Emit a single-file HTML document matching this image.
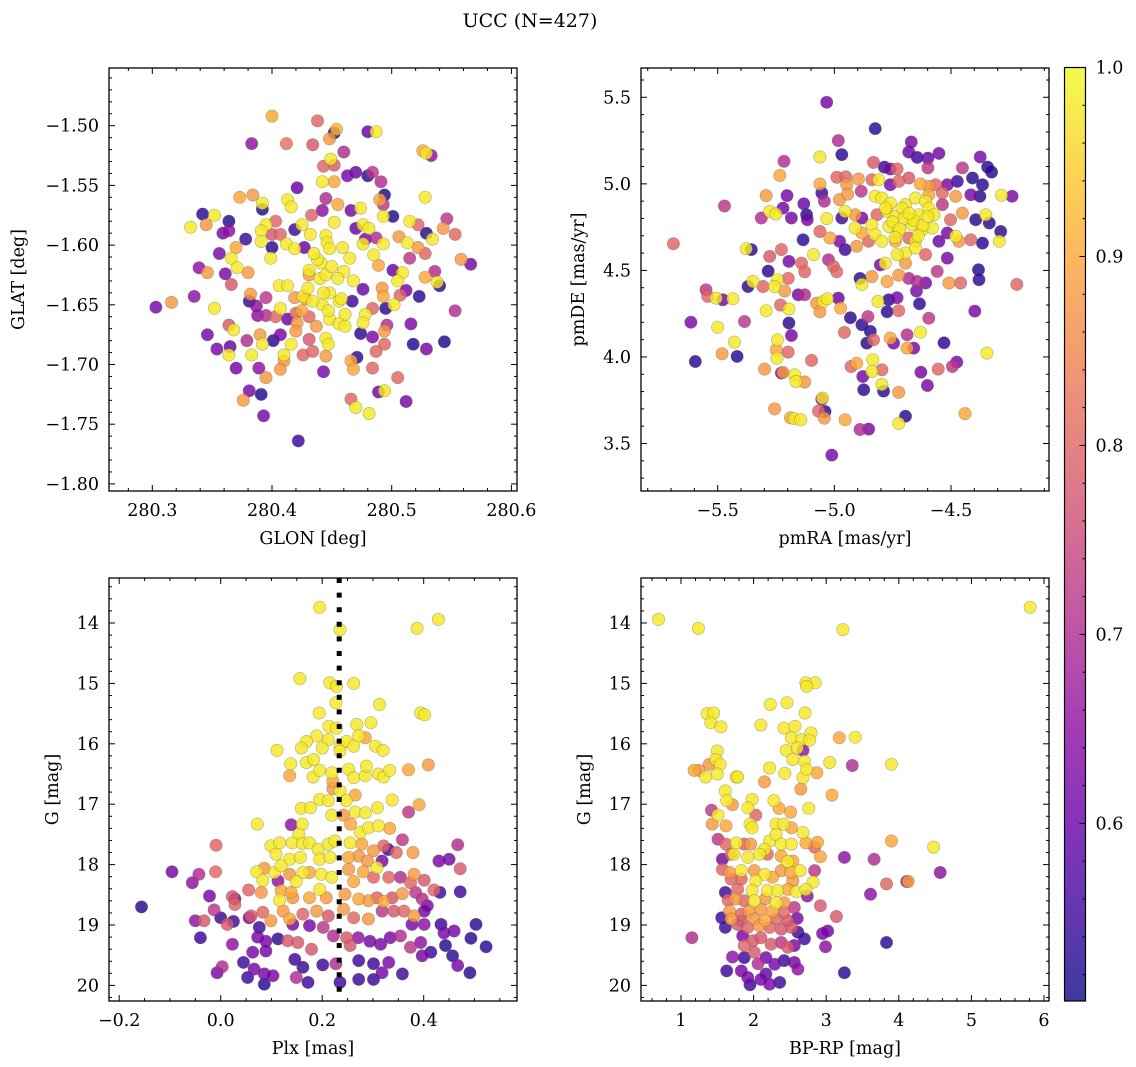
<!DOCTYPE html>
<html><head><meta charset="utf-8"><title>UCC (N=427)</title>
<style>
html,body{margin:0;padding:0;background:#fff;}
svg{display:block;font-family:"DejaVu Serif","Liberation Serif",serif;}
</style></head>
<body>
<svg id="fig" width="1136" height="1067" viewBox="0 0 1136 1067" xmlns="http://www.w3.org/2000/svg">
<rect width="1136" height="1067" fill="#fff"/>
<text x="530" y="27" font-size="19" text-anchor="middle">UCC (N=427)</text>
<g id="layer"></g>
</svg>
<script>
// ---- Panel 1: GLON vs GLAT ----
const glonTL=[280.400,280.438,280.454,280.452,280.480,280.487,280.383,280.412,280.434,280.448,280.460,280.526,280.529,280.533,280.449,280.443,280.452,280.463,280.470,280.484,280.480,280.491,280.442,280.452,280.421,280.494,280.528,280.373,280.384,280.392,280.392,280.413,280.416,280.445,280.455,280.490,280.493,280.474,280.466,280.493,280.501,280.342,280.352,280.332,280.345,280.364,280.359,280.364,280.378,280.403,280.395,280.391,280.400,280.407,280.419,280.425,280.433,280.442,280.432,280.445,280.452,280.476,280.481,280.470,280.487,280.506,280.513,280.515,280.522,280.529,280.534,280.546,280.543,280.553,280.522,280.528,280.391,280.370,280.356,280.366,280.371,280.380,280.339,280.346,280.361,280.366,280.399,280.400,280.412,280.419,280.427,280.431,280.441,280.446,280.448,280.459,280.465,280.476,280.478,280.485,280.493,280.489,280.501,280.509,280.505,280.515,280.528,280.536,280.538,280.540,280.558,280.566,280.303,280.316,280.335,280.352,280.382,280.381,280.387,280.395,280.406,280.413,280.407,280.419,280.426,280.431,280.440,280.445,280.448,280.442,280.434,280.456,280.460,280.468,280.476,280.467,280.461,280.448,280.456,280.461,280.478,280.476,280.484,280.492,280.493,280.502,280.507,280.512,280.523,280.495,280.553,280.420,280.413,280.403,280.395,280.388,280.421,280.431,280.437,280.364,280.368,280.346,280.354,280.365,280.364,280.379,280.390,280.392,280.383,280.401,280.407,280.416,280.410,280.410,280.426,280.420,280.431,280.445,280.447,280.445,280.434,280.474,280.484,280.494,280.496,280.494,280.487,280.516,280.518,280.529,280.544,280.370,280.389,280.407,280.443,280.466,280.468,280.471,280.484,280.505,280.395,280.381,280.391,280.376,280.466,280.489,280.494,280.512,280.470,280.481,280.393,280.422,280.430,280.438,280.450,280.425,280.443,280.455,280.435,280.447,280.458,280.428];
const glatTL=[-1.492,-1.496,-1.503,-1.506,-1.505,-1.505,-1.515,-1.515,-1.516,-1.511,-1.522,-1.521,-1.523,-1.525,-1.528,-1.534,-1.533,-1.542,-1.539,-1.539,-1.542,-1.547,-1.547,-1.547,-1.552,-1.558,-1.560,-1.560,-1.558,-1.565,-1.570,-1.562,-1.568,-1.561,-1.566,-1.562,-1.566,-1.569,-1.571,-1.576,-1.576,-1.574,-1.575,-1.585,-1.583,-1.580,-1.590,-1.588,-1.595,-1.580,-1.583,-1.588,-1.591,-1.591,-1.587,-1.583,-1.575,-1.571,-1.591,-1.592,-1.581,-1.583,-1.586,-1.586,-1.594,-1.593,-1.598,-1.580,-1.583,-1.590,-1.595,-1.578,-1.586,-1.591,-1.602,-1.607,-1.597,-1.602,-1.607,-1.611,-1.619,-1.623,-1.619,-1.623,-1.624,-1.633,-1.611,-1.602,-1.599,-1.603,-1.602,-1.621,-1.615,-1.598,-1.603,-1.602,-1.611,-1.599,-1.595,-1.608,-1.599,-1.617,-1.621,-1.623,-1.630,-1.611,-1.627,-1.622,-1.631,-1.634,-1.612,-1.616,-1.652,-1.648,-1.643,-1.653,-1.641,-1.647,-1.651,-1.644,-1.634,-1.634,-1.653,-1.644,-1.643,-1.625,-1.628,-1.625,-1.640,-1.650,-1.647,-1.647,-1.622,-1.630,-1.637,-1.647,-1.658,-1.662,-1.666,-1.668,-1.658,-1.665,-1.653,-1.636,-1.643,-1.650,-1.642,-1.638,-1.643,-1.653,-1.655,-1.657,-1.662,-1.660,-1.659,-1.659,-1.665,-1.660,-1.668,-1.667,-1.671,-1.675,-1.687,-1.685,-1.692,-1.680,-1.675,-1.683,-1.692,-1.680,-1.675,-1.683,-1.692,-1.697,-1.692,-1.672,-1.679,-1.678,-1.683,-1.693,-1.689,-1.674,-1.677,-1.672,-1.667,-1.683,-1.689,-1.666,-1.683,-1.687,-1.681,-1.703,-1.703,-1.704,-1.706,-1.697,-1.704,-1.694,-1.703,-1.711,-1.711,-1.722,-1.725,-1.730,-1.729,-1.723,-1.722,-1.731,-1.736,-1.741,-1.743,-1.764,-1.636,-1.612,-1.618,-1.655,-1.640,-1.628,-1.607,-1.655,-1.645,-1.645];
const probTL=[0.9,0.8,0.92,0.52,0.6,0.98,0.65,0.82,0.78,0.88,0.7,0.9,0.98,0.65,0.98,0.8,0.78,0.62,0.6,0.72,0.53,0.7,0.98,0.9,0.6,0.52,0.98,0.9,0.88,0.98,0.52,0.98,0.98,0.7,0.9,0.9,0.72,0.98,0.62,0.98,0.52,0.53,0.98,0.98,0.88,0.52,0.62,0.65,0.55,0.8,0.98,0.98,0.78,0.8,0.55,0.98,0.8,0.65,0.98,0.98,0.98,0.98,0.98,0.6,0.7,0.88,0.98,0.98,0.8,0.52,0.98,0.72,0.88,0.8,0.88,0.8,0.98,0.9,0.62,0.98,0.98,0.88,0.65,0.88,0.62,0.78,0.98,0.53,0.98,0.98,0.6,0.98,0.98,0.98,0.98,0.98,0.98,0.98,0.62,0.98,0.98,0.9,0.6,0.98,0.98,0.72,0.9,0.7,0.98,0.53,0.88,0.62,0.62,0.88,0.65,0.98,0.88,0.53,0.65,0.72,0.98,0.98,0.98,0.88,0.98,0.88,0.98,0.98,0.98,0.98,0.98,0.98,0.98,0.98,0.6,0.55,0.98,0.98,0.98,0.98,0.98,0.98,0.8,0.88,0.9,0.98,0.8,0.62,0.53,0.53,0.7,0.8,0.6,0.8,0.7,0.65,0.88,0.8,0.88,0.78,0.98,0.62,0.62,0.6,0.98,0.7,0.88,0.98,0.98,0.53,0.62,0.98,0.98,0.88,0.8,0.88,0.78,0.98,0.98,0.88,0.8,0.53,0.62,0.88,0.7,0.8,0.8,0.62,0.52,0.62,0.52,0.62,0.65,0.88,0.62,0.9,0.9,0.53,0.8,0.8,0.88,0.62,0.52,0.88,0.8,0.62,0.98,0.62,0.98,0.98,0.62,0.55,0.98,0.98,0.98,0.9,0.98,0.98,0.98,0.98,0.98,0.88];

// ---- Panel 2: pmRA vs pmDE ----
const pmraTR=[-5.033,-4.825,-4.983,-4.968,-5.062,-4.670,-4.681,-4.645,-4.599,-4.552,-4.375,-5.216,-5.234,-4.832,-4.786,-4.760,-4.731,-4.599,-4.451,-4.343,-4.326,-4.408,-4.365,-4.473,-4.516,-4.989,-4.951,-4.897,-4.839,-4.810,-4.760,-4.724,-4.681,-4.631,-4.595,-4.566,-5.062,-4.947,-5.292,-5.203,-5.131,-5.054,-5.043,-4.978,-4.943,-4.885,-4.825,-4.796,-4.760,-4.695,-4.652,-4.609,-4.595,-4.537,-4.480,-4.415,-4.376,-4.283,-4.238,-5.471,-5.277,-5.251,-5.313,-5.220,-5.184,-5.119,-5.116,-5.033,-4.968,-4.954,-4.911,-4.882,-4.839,-4.817,-4.774,-4.738,-4.710,-4.681,-4.638,-4.595,-4.573,-4.537,-4.451,-4.394,-4.351,-4.336,-4.502,-4.911,-4.882,-4.825,-4.767,-4.724,-4.667,-4.624,-4.580,-4.652,-4.681,-4.796,-4.738,-4.853,-5.062,-5.019,-5.134,-4.978,-4.954,-4.904,-4.695,-4.652,-4.609,-4.552,-4.516,-4.480,-4.466,-4.415,-4.365,-4.287,-4.293,-4.516,-4.731,-4.782,-4.695,-4.724,-4.803,-5.690,-5.378,-5.356,-5.277,-5.227,-5.195,-5.141,-5.127,-5.089,-5.025,-5.004,-4.990,-5.284,-5.198,-5.244,-5.349,-5.370,-5.306,-5.550,-5.543,-5.507,-5.478,-5.435,-5.256,-5.213,-5.155,-5.127,-5.076,-5.048,-5.030,-4.983,-4.973,-4.890,-4.882,-4.839,-4.774,-4.681,-4.645,-4.609,-4.559,-4.509,-4.459,-4.382,-4.380,-4.218,-4.648,-4.813,-4.767,-4.731,-4.774,-4.724,-4.635,-4.398,-5.615,-5.500,-5.385,-5.292,-5.231,-5.195,-5.195,-5.184,-5.062,-4.931,-4.856,-4.882,-4.846,-4.832,-4.861,-4.957,-4.760,-4.746,-4.688,-4.688,-4.660,-4.595,-4.631,-4.530,-5.596,-5.481,-5.417,-5.428,-5.244,-5.249,-5.198,-5.246,-5.299,-5.227,-5.220,-5.170,-5.165,-5.127,-5.098,-4.904,-4.928,-4.835,-4.839,-4.796,-4.878,-4.874,-4.796,-4.789,-4.724,-4.629,-4.601,-4.555,-4.494,-4.475,-4.346,-5.256,-5.054,-5.051,-5.068,-5.043,-5.040,-5.188,-5.172,-5.144,-4.954,-4.890,-4.853,-4.695,-4.724,-4.440,-5.011,-4.750,-4.700,-4.660,-4.620,-4.780,-4.720,-4.680,-4.640,-4.740,-4.600];
const pmdeTR=[5.471,5.319,5.250,5.169,5.155,5.242,5.184,5.153,5.149,5.176,5.155,5.130,5.049,5.124,5.097,5.086,5.086,5.092,5.092,5.097,5.068,5.034,4.995,5.014,4.995,5.038,5.041,5.028,5.024,5.024,4.995,5.014,5.034,4.999,4.986,4.995,4.999,4.995,4.932,4.932,4.885,4.947,4.899,4.909,4.941,4.957,4.928,4.918,4.889,4.880,4.918,4.899,4.937,4.947,4.928,4.937,4.928,4.934,4.928,4.872,4.841,4.826,4.803,4.860,4.803,4.822,4.793,4.799,4.803,4.841,4.822,4.803,4.764,4.822,4.841,4.812,4.860,4.803,4.822,4.860,4.822,4.880,4.831,4.793,4.822,4.774,4.793,4.745,4.716,4.706,4.754,4.725,4.764,4.735,4.745,4.668,4.687,4.668,4.668,4.668,4.725,4.687,4.677,4.668,4.620,4.639,4.601,4.629,4.591,4.668,4.716,4.697,4.668,4.677,4.658,4.725,4.668,4.571,4.591,4.542,4.542,4.473,4.532,4.654,4.625,4.620,4.581,4.620,4.552,4.542,4.492,4.591,4.562,4.523,4.492,4.496,4.454,4.446,4.436,4.407,4.407,4.388,4.350,4.340,4.330,4.336,4.407,4.381,4.359,4.359,4.311,4.321,4.336,4.340,4.282,4.454,4.419,4.465,4.436,4.454,4.436,4.427,4.494,4.427,4.427,4.504,4.446,4.419,4.381,4.321,4.330,4.342,4.261,4.267,4.307,4.265,4.201,4.172,4.205,4.267,4.300,4.277,4.196,4.124,4.261,4.227,4.233,4.186,4.148,4.099,4.080,4.142,4.109,4.080,4.128,4.051,4.051,4.224,4.143,4.082,3.974,4.018,4.003,4.086,4.099,4.041,4.028,3.993,3.930,3.907,3.911,3.897,3.858,3.855,3.980,3.964,3.945,3.984,3.916,3.926,3.887,3.810,3.841,3.803,3.795,3.912,3.835,3.930,3.945,3.970,4.022,3.700,3.756,3.762,3.687,3.646,3.685,3.649,3.643,3.637,3.637,3.581,3.583,3.658,3.616,3.673,3.433,4.780,4.800,4.790,4.760,4.860,4.740,4.830,4.700,4.690,4.810];
const probTR=[0.62,0.53,0.7,0.53,0.98,0.62,0.6,0.55,0.6,0.62,0.62,0.7,0.9,0.78,0.55,0.62,0.8,0.72,0.72,0.53,0.52,0.53,0.53,0.55,0.62,0.8,0.8,0.88,0.8,0.98,0.62,0.8,0.78,0.9,0.88,0.8,0.9,0.88,0.88,0.62,0.6,0.55,0.7,0.88,0.88,0.72,0.98,0.98,0.98,0.98,0.98,0.98,0.9,0.8,0.88,0.62,0.53,0.98,0.62,0.72,0.98,0.98,0.7,0.62,0.62,0.53,0.62,0.98,0.55,0.98,0.88,0.62,0.98,0.8,0.98,0.98,0.98,0.98,0.98,0.98,0.98,0.72,0.88,0.53,0.98,0.53,0.8,0.98,0.9,0.98,0.98,0.98,0.98,0.98,0.98,0.98,0.8,0.98,0.9,0.8,0.8,0.9,0.53,0.62,0.55,0.88,0.98,0.98,0.8,0.6,0.62,0.98,0.88,0.8,0.53,0.53,0.98,0.62,0.98,0.98,0.88,0.88,0.62,0.8,0.98,0.53,0.78,0.8,0.62,0.8,0.8,0.98,0.7,0.8,0.8,0.53,0.8,0.98,0.98,0.53,0.8,0.72,0.8,0.98,0.62,0.98,0.98,0.88,0.62,0.7,0.88,0.98,0.98,0.6,0.9,0.53,0.98,0.88,0.9,0.7,0.7,0.62,0.72,0.88,0.8,0.53,0.53,0.8,0.62,0.98,0.53,0.62,0.53,0.8,0.53,0.62,0.62,0.98,0.72,0.98,0.8,0.98,0.53,0.62,0.88,0.53,0.72,0.53,0.53,0.8,0.53,0.8,0.9,0.62,0.7,0.9,0.62,0.72,0.98,0.53,0.53,0.88,0.53,0.98,0.98,0.9,0.8,0.98,0.88,0.62,0.88,0.98,0.98,0.88,0.8,0.9,0.8,0.98,0.98,0.8,0.62,0.53,0.98,0.53,0.88,0.62,0.62,0.8,0.72,0.62,0.98,0.88,0.62,0.98,0.8,0.88,0.53,0.9,0.98,0.98,0.9,0.7,0.62,0.53,0.98,0.9,0.62,0.98,0.98,0.98,0.98,0.98,0.98,0.98,0.98,0.98,0.98];

// ---- Panel 3: Plx vs G ----
const plxBL=[0.195,0.235,0.387,0.429,0.156,0.215,0.228,0.262,0.227,0.313,0.194,0.394,0.402,0.213,0.228,0.268,0.296,0.285,0.272,0.189,0.169,0.212,0.200,0.235,0.248,0.262,0.159,0.111,0.305,0.320,0.235,0.138,0.169,0.183,0.136,0.182,0.195,0.219,0.252,0.262,0.285,0.287,0.311,0.321,0.333,0.370,0.409,0.221,0.221,0.235,0.265,0.195,0.212,0.247,0.159,0.177,0.219,0.242,0.265,0.285,0.309,0.338,0.370,0.391,0.072,0.139,0.161,0.256,0.275,0.291,0.311,0.333,0.154,0.099,0.116,0.141,0.161,0.175,0.192,0.212,0.225,0.255,0.278,0.301,0.321,0.358,0.346,0.379,0.467,-0.009,0.109,0.136,0.157,0.195,0.215,0.252,0.272,0.289,0.318,0.330,0.430,0.450,0.472,-0.096,-0.043,-0.010,-0.056,0.071,0.086,0.106,0.119,0.083,0.113,0.136,0.162,0.175,0.149,0.198,0.219,0.252,0.262,0.281,0.301,0.308,0.331,0.354,0.381,0.374,0.401,0.432,0.420,0.472,-0.022,0.023,0.028,0.055,0.080,0.119,0.139,0.116,0.142,0.175,0.195,0.208,0.245,0.272,0.291,0.308,0.321,0.338,0.358,0.384,0.397,-0.156,0.028,-0.013,-0.050,-0.033,-0.040,0.000,0.013,0.025,0.056,0.060,0.083,0.099,0.123,0.136,0.162,0.189,0.212,0.242,0.262,0.291,0.318,0.341,0.361,0.381,0.401,0.407,0.377,0.401,0.434,0.440,0.460,0.503,0.493,0.523,0.076,0.073,0.089,0.113,0.132,0.152,0.142,0.175,0.202,0.222,0.248,0.255,0.271,0.294,0.315,0.334,0.354,0.374,0.394,0.414,0.443,0.457,0.467,0.491,0.023,0.063,0.089,0.179,0.146,0.162,-0.007,0.003,0.045,0.053,0.066,0.086,0.086,0.103,0.149,0.172,0.201,0.227,0.235,0.272,0.272,0.301,0.301,0.318,0.331,0.358,0.397];
const gmagBL=[13.74,14.11,14.09,13.94,14.92,14.99,15.05,15.00,15.32,15.35,15.49,15.49,15.52,15.71,15.74,15.68,15.65,15.90,15.87,15.87,15.96,15.93,16.07,16.04,15.96,16.04,16.07,16.11,16.04,16.11,16.12,16.33,16.31,16.26,16.53,16.55,16.44,16.48,16.42,16.56,16.53,16.37,16.50,16.55,16.44,16.43,16.35,16.62,16.74,16.78,16.85,16.92,16.94,16.94,17.07,17.06,17.18,17.18,17.13,17.14,17.06,16.93,17.13,17.01,17.33,17.34,17.33,17.33,17.47,17.39,17.36,17.40,17.50,17.69,17.64,17.64,17.65,17.64,17.75,17.66,17.61,17.64,17.66,17.77,17.69,17.59,17.80,17.80,17.67,17.68,17.83,17.91,17.88,17.91,17.88,17.88,17.86,17.94,17.94,17.75,17.94,17.91,18.07,18.12,18.16,18.12,18.30,18.12,18.06,18.13,18.02,18.26,18.27,18.16,18.13,18.13,18.28,18.16,18.21,18.08,18.28,18.12,18.21,18.05,18.21,18.21,18.16,18.30,18.26,18.46,18.42,18.45,18.52,18.53,18.57,18.42,18.46,18.43,18.46,18.59,18.55,18.55,18.41,18.55,18.49,18.57,18.60,18.55,18.61,18.55,18.48,18.46,18.57,18.70,18.66,18.75,18.93,18.93,19.21,18.88,18.99,18.94,18.88,18.85,18.79,18.93,18.77,18.90,18.82,18.77,18.85,18.74,18.88,18.90,18.77,18.77,18.77,18.85,18.77,18.68,18.99,18.99,18.99,19.13,19.10,18.99,19.22,19.36,19.04,19.20,19.27,19.23,19.26,19.29,18.99,19.01,19.04,19.18,19.21,19.34,19.21,19.27,19.32,19.21,19.18,19.37,19.29,19.45,19.34,19.51,19.67,19.79,19.32,19.45,19.43,19.40,19.57,19.70,19.79,19.69,19.62,19.87,19.73,19.81,19.98,19.84,19.87,19.95,19.66,19.64,19.95,19.59,19.90,19.64,19.90,19.79,19.62,19.81,19.51];
const probBL=[0.98,0.98,0.98,0.98,0.98,0.98,0.98,0.98,0.98,0.98,0.98,0.98,0.98,0.98,0.98,0.98,0.98,0.9,0.98,0.98,0.98,0.98,0.98,0.98,0.98,0.98,0.98,0.98,0.98,0.98,0.98,0.98,0.98,0.98,0.9,0.98,0.98,0.98,0.98,0.98,0.98,0.98,0.98,0.98,0.98,0.9,0.88,0.9,0.88,0.98,0.9,0.98,0.98,0.98,0.98,0.98,0.98,0.88,0.98,0.98,0.98,0.98,0.72,0.9,0.98,0.65,0.98,0.9,0.98,0.98,0.98,0.9,0.98,0.98,0.98,0.98,0.98,0.98,0.98,0.98,0.98,0.98,0.9,0.88,0.8,0.72,0.8,0.88,0.7,0.8,0.98,0.98,0.98,0.98,0.98,0.9,0.88,0.88,0.62,0.55,0.62,0.62,0.78,0.62,0.7,0.8,0.65,0.98,0.88,0.98,0.98,0.98,0.65,0.88,0.98,0.9,0.98,0.98,0.98,0.88,0.9,0.9,0.8,0.98,0.8,0.7,0.88,0.8,0.78,0.55,0.8,0.55,0.62,0.78,0.62,0.8,0.88,0.9,0.9,0.98,0.88,0.9,0.98,0.88,0.88,0.9,0.88,0.8,0.9,0.78,0.88,0.72,0.7,0.53,0.8,0.72,0.65,0.78,0.55,0.55,0.78,0.55,0.62,0.78,0.8,0.88,0.88,0.9,0.8,0.88,0.78,0.88,0.8,0.88,0.72,0.78,0.8,0.88,0.62,0.62,0.62,0.65,0.55,0.62,0.62,0.53,0.53,0.53,0.55,0.62,0.62,0.53,0.78,0.78,0.62,0.62,0.72,0.7,0.78,0.78,0.65,0.62,0.62,0.62,0.7,0.72,0.65,0.55,0.53,0.53,0.62,0.53,0.65,0.62,0.62,0.78,0.55,0.55,0.62,0.7,0.55,0.55,0.62,0.62,0.53,0.62,0.7,0.55,0.55,0.7,0.55,0.55,0.55,0.55,0.55,0.62,0.62,0.55,0.62];

// ---- Panel 4: BP-RP vs G ----
const bprpBR=[0.69,1.24,3.23,5.81,2.72,2.85,2.73,2.23,2.46,2.71,1.36,1.45,1.41,1.55,2.10,2.42,2.57,2.52,2.66,2.79,2.77,3.18,3.40,2.68,2.45,2.60,2.54,2.70,3.05,3.36,3.90,1.50,1.48,1.39,1.54,1.18,1.25,1.34,1.50,1.76,1.78,2.22,2.43,2.68,2.73,2.87,2.15,2.65,3.08,1.61,1.63,1.71,1.98,1.92,2.28,2.35,2.51,2.76,1.42,1.51,2.03,1.43,1.62,1.95,1.98,2.31,2.41,2.52,2.68,1.51,1.62,1.76,1.87,1.96,2.22,2.31,2.38,2.52,2.72,2.88,2.84,2.15,2.92,3.25,3.66,3.90,4.48,1.57,1.69,1.73,1.92,2.08,2.19,2.38,2.47,2.54,1.57,1.67,1.83,2.01,2.15,2.26,2.38,2.51,2.64,2.84,2.82,2.54,2.03,1.83,1.69,3.83,4.11,4.13,4.57,1.61,1.78,1.98,2.19,2.33,2.47,2.59,2.72,2.74,3.61,1.65,1.75,1.87,2.01,2.16,2.31,2.42,2.56,2.92,3.14,1.67,1.83,1.94,2.10,2.26,2.42,1.56,1.69,1.83,2.01,2.16,2.31,2.47,2.60,1.61,1.78,1.92,2.08,2.22,2.38,2.52,2.61,2.70,2.95,3.02,2.99,1.15,3.83,1.85,1.87,1.99,2.10,2.24,2.38,2.47,2.56,1.71,1.87,2.01,2.06,2.17,2.29,2.42,2.56,2.61,1.63,1.83,1.92,1.95,2.10,2.17,2.22,2.36,3.25];
const gmagBR=[13.94,14.09,14.11,13.74,14.99,14.99,15.05,15.35,15.32,15.49,15.50,15.49,15.65,15.72,15.69,15.74,15.71,15.90,15.93,15.82,15.94,15.90,15.89,16.11,16.11,16.07,16.26,16.29,16.31,16.36,16.34,16.12,16.26,16.34,16.34,16.44,16.44,16.55,16.50,16.55,16.55,16.40,16.49,16.56,16.42,16.48,16.63,16.75,16.85,16.78,16.94,17.01,16.92,17.06,16.94,17.07,17.13,17.07,17.10,17.18,17.18,17.33,17.36,17.33,17.39,17.33,17.33,17.39,17.47,17.58,17.66,17.64,17.66,17.66,17.61,17.50,17.66,17.66,17.64,17.63,17.71,17.75,17.87,17.88,17.91,17.61,17.71,17.91,17.83,17.83,17.88,17.83,17.83,17.86,17.95,17.94,18.08,18.13,18.10,18.10,18.16,18.21,18.10,18.13,18.10,18.10,18.29,18.27,18.27,18.24,18.24,18.32,18.28,18.28,18.13,18.46,18.41,18.43,18.43,18.43,18.41,18.45,18.41,18.52,18.49,18.59,18.57,18.60,18.60,18.57,18.63,18.63,18.71,18.68,18.86,18.77,18.82,18.77,18.74,18.77,18.79,18.88,18.90,18.93,18.90,18.92,18.90,18.93,18.89,19.04,18.99,19.04,19.01,19.04,19.07,19.04,19.12,19.23,19.14,19.10,19.36,19.21,19.29,19.18,19.34,19.26,19.21,19.32,19.29,19.37,19.34,19.53,19.54,19.45,19.64,19.54,19.65,19.59,19.62,19.73,19.76,19.76,19.87,19.99,19.90,19.81,19.98,19.95,19.79];
const probBR=[0.98,0.98,0.98,0.98,0.98,0.98,0.98,0.98,0.98,0.98,0.98,0.98,0.98,0.98,0.98,0.98,0.98,0.98,0.98,0.98,0.98,0.9,0.98,0.65,0.98,0.98,0.98,0.98,0.98,0.7,0.98,0.98,0.98,0.88,0.98,0.9,0.88,0.98,0.98,0.98,0.98,0.98,0.98,0.98,0.98,0.9,0.88,0.88,0.9,0.98,0.98,0.88,0.98,0.98,0.98,0.9,0.9,0.98,0.72,0.98,0.8,0.88,0.9,0.98,0.98,0.98,0.98,0.9,0.98,0.72,0.8,0.98,0.8,0.88,0.98,0.98,0.98,0.98,0.9,0.9,0.8,0.98,0.9,0.65,0.7,0.9,0.98,0.62,0.8,0.98,0.98,0.98,0.8,0.9,0.98,0.9,0.8,0.88,0.98,0.88,0.98,0.9,0.88,0.9,0.98,0.72,0.98,0.88,0.98,0.8,0.8,0.8,0.62,0.9,0.65,0.55,0.8,0.98,0.98,0.98,0.9,0.98,0.98,0.65,0.65,0.8,0.88,0.8,0.98,0.88,0.98,0.88,0.72,0.78,0.78,0.88,0.8,0.88,0.88,0.9,0.8,0.55,0.88,0.78,0.88,0.9,0.8,0.78,0.62,0.55,0.78,0.8,0.88,0.8,0.78,0.78,0.55,0.55,0.62,0.62,0.65,0.7,0.53,0.62,0.8,0.78,0.78,0.78,0.72,0.78,0.62,0.65,0.55,0.78,0.7,0.62,0.62,0.55,0.62,0.65,0.55,0.62,0.62,0.55,0.62,0.6,0.62,0.55,0.53];

// colour scale range and colorbar ticks
const cbarTicks=[0.6,0.7,0.8,0.9,1.0];
const plxLine=[0.2335];

const NS="http://www.w3.org/2000/svg";
const layer=document.getElementById('layer');
const VMIN=0.506, VMAX=1.0;
const PL=[[13,8,135],[65,4,157],[106,0,168],[143,13,164],[177,42,144],[204,71,120],[225,100,98],[242,132,75],[252,166,54],[252,206,37],[240,249,33]];
function plasma(t){t=Math.max(0,Math.min(1,t));const f=t*10,i=Math.min(9,Math.floor(f)),r=f-i;const a=PL[i],b=PL[i+1];return 'rgb('+[0,1,2].map(k=>Math.round(a[k]+(b[k]-a[k])*r)).join(',')+')';}
function mk(tag,attrs,parent){const e=document.createElementNS(NS,tag);for(const k in attrs)e.setAttribute(k,attrs[k]);(parent||layer).appendChild(e);return e;}
function fmt(v,d){const s=Math.abs(v).toFixed(d);return (v<-1e-9?'\u2212':'')+s;}
const FS=17.5;

function panel(id,L,T,W,H,xm,ym,xs,ys,ps,xt,yt,xlab,ylab,ylabX){
  const g=mk('g',{});
  
  
  const sx=v=>xm.p0+(v-xm.v0)*xm.k, sy=v=>ym.p0+(v-ym.v0)*ym.k;
  const clip=mk('clipPath',{id:'c'+id},g);mk('rect',{x:L,y:T,width:W,height:H},clip);
  const pts=mk('g',{'clip-path':'url(#c'+id+')'},g);
  
  
  const idx=ps.map((p,i)=>i).sort((a,b)=>ps[a]-ps[b]);
  idx.forEach(i=>{
    const c=mk('circle',{cx:sx(xs[i]).toFixed(1),cy:sy(ys[i]).toFixed(1),r:6.2,fill:plasma((ps[i]-VMIN)/(VMAX-VMIN)),'fill-opacity':0.82,stroke:'rgba(90,90,60,0.45)','stroke-width':0.6},pts);
    
    
  });
  if(id==='plx'){
    const x=sx(plxLine[0]);
    const ln=mk('line',{x1:x,x2:x,y1:T,y2:T+H,stroke:'#000','stroke-width':5,'stroke-dasharray':'5,9.6'},g);
    
    
  }
  const tk=mk('g',{stroke:'#000','stroke-width':1},g);
  for(let i=0;;i++){const v=xt.start+i*xt.minor;if(v>xt.end+1e-9)break;const x=sx(v);if(x<L-0.5||x>L+W+0.5)continue;
    const mj=Math.abs(Math.round((v-xt.major0)/xt.major)*xt.major-(v-xt.major0))<1e-6;const len=mj?6:3;
    mk('line',{x1:x,x2:x,y1:T+H,y2:T+H-len},tk);mk('line',{x1:x,x2:x,y1:T,y2:T+len},tk);
    if(mj){const t=mk('text',{x:x,y:T+H+25,'font-size':FS,'text-anchor':'middle',stroke:'none',fill:'#000'},g);t.textContent=fmt(v,xt.dec);
      
      }}
  for(let i=0;;i++){const v=yt.start+i*yt.minor;if(v>yt.end+1e-9)break;const y=sy(v);if(y<T-0.5||y>T+H+0.5)continue;
    const mj=Math.abs(Math.round((v-yt.major0)/yt.major)*yt.major-(v-yt.major0))<1e-6;const len=mj?6:3;
    mk('line',{x1:L,x2:L+len,y1:y,y2:y},tk);mk('line',{x1:L+W,x2:L+W-len,y1:y,y2:y},tk);
    if(mj){const t=mk('text',{x:L-10,y:y+6,'font-size':FS,'text-anchor':'end',stroke:'none',fill:'#000'},g);t.textContent=fmt(v,yt.dec);
      
      }}
  const fr=mk('rect',{x:L,y:T,width:W,height:H,fill:'none',stroke:'#000','stroke-width':1.3},g);
  
  
  const xl=mk('text',{x:L+W/2,y:T+H+53,'font-size':FS,'text-anchor':'middle'},g);xl.textContent=xlab;
  
  
  const yc=T+H/2;
  const yl=mk('text',{x:ylabX,y:yc,'font-size':FS,'text-anchor':'middle',transform:'rotate(-90 '+ylabX+' '+yc+')'},g);yl.textContent=ylab;
  
  
}

panel('glon',109,68,408,423,{v0:280.3,p0:152.3,k:1197},{v0:-1.5,p0:125.7,k:-1194},glonTL,glatTL,probTL,
  {start:280.26,end:280.62,minor:0.02,major:0.1,major0:280.3,dec:1},{start:-1.81,end:-1.45,minor:0.01,major:0.05,major0:-1.5,dec:2},'GLON [deg]','GLAT [deg]',24);
panel('pm',641,68,408,423,{v0:-5.5,p0:717.7,k:233.3},{v0:5.5,p0:97.3,k:-173.1},pmraTR,pmdeTR,probTR,
  {start:-5.9,end:-4.0,minor:0.1,major:0.5,major0:-5.5,dec:1},{start:3.2,end:5.7,minor:0.1,major:0.5,major0:3.5,dec:1},'pmRA [mas/yr]','pmDE [mas/yr]',584);
panel('plx',109,578,408,423,{v0:0,p0:220.7,k:507.5},{v0:14,p0:623,k:60.4},plxBL,gmagBL,probBL,
  {start:-0.25,end:0.6,minor:0.05,major:0.2,major0:0,dec:1},{start:13.2,end:20.4,minor:0.2,major:1,major0:14,dec:0},'Plx [mas]','G [mag]',58);
panel('cmd',641,578,408,423,{v0:1,p0:681,k:72.6},{v0:14,p0:623,k:60.4},bprpBR,gmagBR,probBR,
  {start:0.4,end:6.2,minor:0.2,major:1,major0:1,dec:0},{start:13.2,end:20.4,minor:0.2,major:1,major0:14,dec:0},'BP-RP [mag]','G [mag]',590);

// colorbar
(function(){
  const L=1064.5,T=67.5,W=21,H=933.5;
  const cy=v=>T+(VMAX-v)/(VMAX-VMIN)*H;
  const g=mk('g',{});
  
  
  const defs=mk('defs',{},g);
  const lg=mk('linearGradient',{id:'pg',x1:0,y1:1,x2:0,y2:0},defs);
  for(let i=0;i<=20;i++){mk('stop',{offset:(i/20),'stop-color':plasma(i/20),'stop-opacity':0.8},lg);}
  mk('rect',{x:L,y:T,width:W,height:H,fill:'url(#pg)'},g);
  for(let i=0;;i++){const v=0.52+i*0.02;if(v>1.0001)break;const y=cy(v);
    const mj=Math.abs(v*10-Math.round(v*10))<1e-6;
    mk('line',{x1:L+W,x2:L+W-(mj?6:3),y1:y,y2:y,stroke:'#000','stroke-width':1},g);}
  cbarTicks.forEach(v=>{const t=mk('text',{x:L+W+10,y:cy(v)+6,'font-size':FS},g);t.textContent=v.toFixed(1);
    
    });
  mk('rect',{x:L,y:T,width:W,height:H,fill:'none',stroke:'#000','stroke-width':1.2},g);
})();
</script>
</body></html>
